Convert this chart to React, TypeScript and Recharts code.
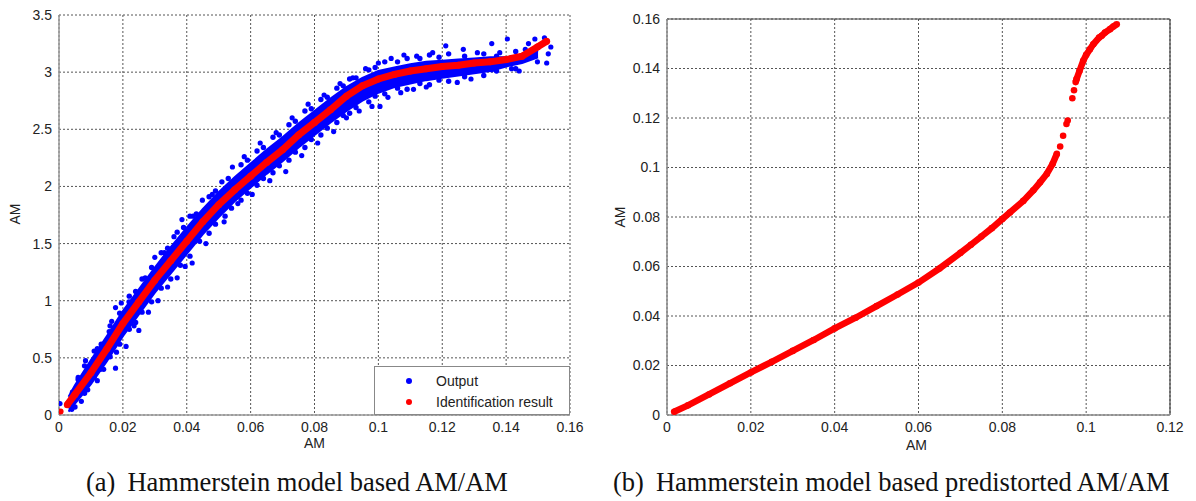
import React from "react";
import {
  ComposedChart,
  Area,
  Scatter,
  XAxis,
  YAxis,
  CartesianGrid,
  ReferenceLine,
} from "recharts";

// (a) Hammerstein model based AM/AM
const ticksA_X = [0, 0.02, 0.04, 0.06, 0.08, 0.1, 0.12, 0.14, 0.16];
const ticksA_Y = [0, 0.5, 1, 1.5, 2, 2.5, 3, 3.5];

// dense core of the "Output" cloud, read as lower / upper edge per x
const bandX = [0.003, 0.005, 0.01, 0.015, 0.02, 0.025, 0.03, 0.035, 0.04, 0.045, 0.05, 0.055, 0.06, 0.065, 0.07, 0.075, 0.08, 0.085, 0.09, 0.095, 0.1, 0.105, 0.11, 0.115, 0.12, 0.125, 0.13, 0.135, 0.14, 0.145, 0.15];
const bandLo = [0.03, 0.1, 0.27, 0.47, 0.69, 0.88, 1.07, 1.24, 1.41, 1.58, 1.73, 1.87, 1.99, 2.11, 2.22, 2.34, 2.45, 2.56, 2.66, 2.75, 2.82, 2.87, 2.9, 2.93, 2.95, 2.97, 2.99, 3.01, 3.05, 3.08, 3.13];
const bandHi = [0.16, 0.26, 0.48, 0.69, 0.91, 1.1, 1.29, 1.47, 1.64, 1.8, 1.95, 2.08, 2.2, 2.32, 2.43, 2.55, 2.66, 2.77, 2.87, 2.95, 3.01, 3.04, 3.07, 3.09, 3.1, 3.11, 3.12, 3.13, 3.13, 3.15, 3.19];

// scattered output samples around the core
const outputPts: [number, number][] = [
  [0.0003, 0.1], [0.004, 0.05], [0.0042, 0.2], [0.006, 0.33], [0.007, 0.12], [0.0083, 0.475],
  [0.009, 0.22], [0.011, 0.56], [0.012, 0.3], [0.0132, 0.62], [0.014, 0.4], [0.0157, 0.73],
  [0.0165, 0.82], [0.0177, 0.94], [0.0177, 0.41], [0.018, 0.55], [0.0195, 0.98], [0.021, 0.6],
  [0.0219, 0.99], [0.0235, 0.78], [0.0248, 1.04], [0.025, 0.74], [0.027, 1.2], [0.028, 0.9],
  [0.03, 1.38], [0.031, 1.0], [0.033, 1.42], [0.034, 1.12], [0.036, 1.56], [0.037, 1.2],
  [0.0385, 1.71], [0.0395, 1.3], [0.0417, 1.33], [0.042, 1.74], [0.0449, 1.88], [0.046, 1.5],
  [0.048, 1.93], [0.0517, 1.69], [0.0543, 2.17], [0.056, 1.85], [0.058, 2.26], [0.0605, 1.93],
  [0.063, 2.38], [0.066, 2.05], [0.068, 2.47], [0.071, 2.13], [0.073, 2.6], [0.076, 2.27],
  [0.078, 2.72], [0.081, 2.38], [0.083, 2.8], [0.086, 2.48], [0.088, 2.9], [0.09, 2.6],
  [0.092, 2.95], [0.094, 2.66], [0.096, 3.03], [0.098, 2.7], [0.1005, 2.7], [0.1, 3.08],
  [0.103, 2.78], [0.104, 3.12], [0.107, 2.82], [0.108, 3.15], [0.111, 2.85], [0.112, 3.14],
  [0.115, 2.87], [0.117, 3.17], [0.1211, 3.23], [0.1247, 2.91], [0.1266, 3.2], [0.129, 2.94],
  [0.131, 3.17], [0.1355, 3.25], [0.1355, 3.02], [0.138, 3.17], [0.1404, 3.29], [0.1417, 3.03],
  [0.1441, 3.01], [0.146, 3.2], [0.147, 3.25], [0.1498, 3.09], [0.149, 3.29], [0.152, 3.3],
  [0.1527, 3.08], [0.1532, 3.16], [0.154, 3.22],
];

// samples along the ragged upper and lower rims of the cloud
const outputRimHi: [number, number][] = [
  [0.006, 0.31], [0.008, 0.43], [0.012, 0.58], [0.016, 0.78], [0.019, 0.89], [0.022, 1.04],
  [0.024, 1.08], [0.026, 1.19], [0.029, 1.29], [0.032, 1.42], [0.034, 1.46], [0.037, 1.6],
  [0.039, 1.64], [0.041, 1.74], [0.043, 1.76], [0.047, 1.91], [0.049, 1.96], [0.051, 2.04],
  [0.053, 2.07], [0.057, 2.19], [0.059, 2.23], [0.062, 2.31], [0.064, 2.34], [0.067, 2.43],
  [0.069, 2.45], [0.072, 2.54], [0.074, 2.57], [0.077, 2.66], [0.079, 2.68], [0.082, 2.76],
  [0.084, 2.78], [0.087, 2.86], [0.089, 2.88], [0.091, 2.94], [0.093, 2.95], [0.097, 3.02],
  [0.099, 3.04], [0.102, 3.09], [0.106, 3.09], [0.109, 3.12], [0.113, 3.12], [0.116, 3.15],
  [0.119, 3.13], [0.122, 3.16], [0.127, 3.14], [0.133, 3.16], [0.137, 3.14], [0.143, 3.18],
];
const outputRimLo: [number, number][] = [
  [0.005, 0.07], [0.008, 0.19], [0.011, 0.33], [0.013, 0.4], [0.016, 0.51], [0.019, 0.62],
  [0.022, 0.75], [0.024, 0.81], [0.026, 0.9], [0.029, 0.99], [0.032, 1.11], [0.035, 1.19],
  [0.038, 1.31], [0.041, 1.39], [0.044, 1.52], [0.047, 1.59], [0.049, 1.67], [0.052, 1.74],
  [0.054, 1.81], [0.057, 1.88], [0.059, 1.94], [0.062, 2.01], [0.064, 2.07], [0.067, 2.12],
  [0.069, 2.18], [0.072, 2.23], [0.074, 2.3], [0.077, 2.34], [0.079, 2.41], [0.082, 2.45],
  [0.084, 2.51], [0.087, 2.56], [0.089, 2.62], [0.091, 2.64], [0.093, 2.69], [0.097, 2.74],
  [0.099, 2.79], [0.102, 2.81], [0.106, 2.86], [0.109, 2.85], [0.113, 2.9], [0.116, 2.89],
  [0.119, 2.93], [0.122, 2.92], [0.127, 2.96], [0.133, 2.97], [0.137, 3.01], [0.143, 3.03],
];

// identification result (red curve)
const idStart: [number, number][] = [[0.0005, 0.03]];
const idCurve: [number, number][] = [
  [0.0026, 0.09], [0.005, 0.18], [0.01, 0.37], [0.015, 0.58], [0.02, 0.8], [0.025, 0.99],
  [0.03, 1.18], [0.035, 1.35], [0.04, 1.52], [0.045, 1.69], [0.05, 1.84], [0.055, 1.97],
  [0.06, 2.09], [0.065, 2.21], [0.07, 2.32], [0.075, 2.45], [0.08, 2.56], [0.085, 2.67],
  [0.09, 2.79], [0.095, 2.88], [0.1, 2.94], [0.105, 2.98], [0.11, 3.01], [0.115, 3.03],
  [0.12, 3.05], [0.125, 3.06], [0.13, 3.08], [0.135, 3.09], [0.14, 3.11], [0.145, 3.14],
  [0.1498, 3.22], [0.1527, 3.27],
];

// (b) Hammerstein model based predistorted AM/AM
const ticksB_X = [0, 0.02, 0.04, 0.06, 0.08, 0.1, 0.12];
const ticksB_Y = [0, 0.02, 0.04, 0.06, 0.08, 0.1, 0.12, 0.14, 0.16];

const preLow: [number, number][] = [
  [0.0017, 0.0013], [0.005, 0.0039], [0.01, 0.0083], [0.015, 0.0128], [0.02, 0.0172],
  [0.025, 0.0215], [0.03, 0.0259], [0.035, 0.0303], [0.04, 0.035], [0.045, 0.0393],
  [0.05, 0.044], [0.055, 0.0487], [0.06, 0.0535], [0.065, 0.0592], [0.07, 0.0655],
  [0.0725, 0.0688], [0.075, 0.0721], [0.0775, 0.0755], [0.08, 0.0792], [0.0818, 0.0818],
  [0.085, 0.0865], [0.0874, 0.0908], [0.089, 0.094], [0.0906, 0.0974], [0.092, 0.1015],
  [0.093, 0.1055],
];
const preMid: [number, number][] = [
  [0.0938, 0.1085], [0.0945, 0.1128], [0.0953, 0.1176], [0.0956, 0.119], [0.0967, 0.128], [0.0971, 0.1312],
];
const preTop: [number, number][] = [
  [0.0975, 0.1345], [0.0977, 0.1357], [0.0984, 0.139], [0.0993, 0.1431], [0.1, 0.1455],
  [0.1009, 0.1478], [0.1017, 0.1498], [0.1031, 0.1525], [0.1037, 0.1532], [0.1045, 0.1545],
  [0.1057, 0.1559], [0.1065, 0.157], [0.1073, 0.1579],
];

const BLUE = "#0000ff";
const RED = "#ff0000";
const SANS = "'Liberation Sans', Arial, sans-serif";
const SERIF = "'Liberation Serif', 'Times New Roman', serif";

const toRows = (pts: [number, number][]) => pts.map(([x, y]) => ({ x, y }));
const bandRows = bandX.map((x, i) => ({ x, band: [bandLo[i], bandHi[i]] }));

const tick = { fontSize: 14, fill: "#222", fontFamily: SANS };

const dot = (r: number, fill: string) => (p: any) => (
  <circle cx={p.cx} cy={p.cy} r={r} fill={fill} />
);

function LeftChart() {
  return (
    <ComposedChart
      width={590}
      height={460}
      data={bandRows}
      margin={{ top: 15, right: 20, bottom: 0, left: 19 }}
    >
      <CartesianGrid stroke="#555" strokeDasharray="2 2" />
      <XAxis
        type="number"
        dataKey="x"
        domain={[0, 0.16]}
        ticks={ticksA_X}
        allowDataOverflow
        height={45}
        tick={tick}
        tickLine={false}
        tickSize={5}
        axisLine={{ stroke: "#999", strokeWidth: 1.5 }}
      />
      <YAxis
        type="number"
        dataKey="y"
        domain={[0, 3.5]}
        ticks={ticksA_Y}
        allowDataOverflow
        width={40}
        tick={tick}
        tickLine={false}
        tickSize={5}
        axisLine={{ stroke: "#999", strokeWidth: 1.5 }}
      />
      <Area
        type="linear"
        dataKey="band"
        stroke={BLUE}
        strokeWidth={2}
        fill={BLUE}
        fillOpacity={1}
        isAnimationActive={false}
      />
      <Scatter data={toRows(outputRimHi)} shape={dot(2.7, BLUE)} isAnimationActive={false} />
      <Scatter data={toRows(outputRimLo)} shape={dot(2.7, BLUE)} isAnimationActive={false} />
      <Scatter data={toRows(outputPts)} shape={dot(2.6, BLUE)} isAnimationActive={false} />
      <Scatter
        data={toRows(idCurve)}
        line={{ stroke: RED, strokeWidth: 7 }}
        shape={dot(3.5, RED)}
        isAnimationActive={false}
      />
      <Scatter data={toRows(idStart)} shape={dot(3, RED)} isAnimationActive={false} />
    </ComposedChart>
  );
}

function RightChart() {
  return (
    <ComposedChart
      width={600}
      height={460}
      margin={{ top: 19, right: 20, bottom: 0, left: 27 }}
    >
      <CartesianGrid stroke="#555" strokeDasharray="2 2" />
      <XAxis
        type="number"
        dataKey="x"
        domain={[0, 0.12]}
        ticks={ticksB_X}
        allowDataOverflow
        height={45}
        tick={tick}
        tickLine={false}
        tickSize={5}
        axisLine={{ stroke: "#888", strokeWidth: 1.5 }}
      />
      <YAxis
        type="number"
        dataKey="y"
        domain={[0, 0.16]}
        ticks={ticksB_Y}
        allowDataOverflow
        width={50}
        tick={tick}
        tickLine={false}
        tickSize={5}
        axisLine={{ stroke: "#888", strokeWidth: 1.5 }}
      />
      <ReferenceLine y={0.16} stroke="#444" strokeWidth={1.2} />
      <ReferenceLine x={0.12} stroke="#444" strokeWidth={1.2} />
      <Scatter
        data={toRows(preLow)}
        line={{ stroke: RED, strokeWidth: 6.5 }}
        shape={dot(3.3, RED)}
        isAnimationActive={false}
      />
      <Scatter data={toRows(preMid)} shape={dot(3.3, RED)} isAnimationActive={false} />
      <Scatter
        data={toRows(preTop)}
        line={{ stroke: RED, strokeWidth: 6.5 }}
        shape={dot(3.3, RED)}
        isAnimationActive={false}
      />
    </ComposedChart>
  );
}

const axisLabel: React.CSSProperties = {
  position: "absolute",
  fontFamily: SANS,
  fontSize: 14,
  color: "#222",
  whiteSpace: "nowrap",
};

const caption: React.CSSProperties = {
  position: "absolute",
  fontFamily: SERIF,
  fontSize: 26.5,
  color: "#111",
  whiteSpace: "nowrap",
};

export default function App() {
  return (
    <div
      style={{
        position: "absolute",
        left: 0,
        top: 0,
        width: 1196,
        height: 501,
        background: "#fff",
        overflow: "hidden",
      }}
    >
      <div style={{ position: "absolute", left: 0, top: 0 }}>
        <LeftChart />
      </div>
      <div style={{ position: "absolute", left: 590, top: 0 }}>
        <RightChart />
      </div>

      {/* legend of (a) */}
      <div
        style={{
          position: "absolute",
          left: 374,
          top: 366,
          width: 194,
          height: 47,
          background: "#fff",
          border: "1.5px solid #888",
          fontFamily: SANS,
          fontSize: 14,
          color: "#222",
        }}
      >
        {[
          { name: "Output", color: BLUE },
          { name: "Identification result", color: RED },
        ].map((e, i) => (
          <div
            key={e.name}
            style={{ position: "absolute", left: 0, top: 4 + i * 21, height: 20, display: "flex", alignItems: "center" }}
          >
            <span
              style={{
                display: "inline-block",
                width: 6,
                height: 6,
                borderRadius: 3,
                background: e.color,
                marginLeft: 31,
                marginRight: 24,
              }}
            />
            <span>{e.name}</span>
          </div>
        ))}
      </div>

      {/* axis titles */}
      <div style={{ ...axisLabel, left: 304, top: 435 }}>AM</div>
      <div style={{ ...axisLabel, left: 0, top: 206, width: 30, textAlign: "center", transform: "rotate(-90deg)" }}>AM</div>
      <div style={{ ...axisLabel, left: 906, top: 437 }}>AM</div>
      <div style={{ ...axisLabel, left: 605, top: 209, width: 30, textAlign: "center", transform: "rotate(-90deg)" }}>AM</div>

      {/* sub-captions */}
      <div style={{ ...caption, left: 86, top: 467 }}>
        <span style={{ marginRight: 12 }}>(a)</span>Hammerstein model based AM/AM
      </div>
      <div style={{ ...caption, left: 613, top: 467 }}>
        <span style={{ marginRight: 12 }}>(b)</span>Hammerstein model based predistorted AM/AM
      </div>
    </div>
  );
}
